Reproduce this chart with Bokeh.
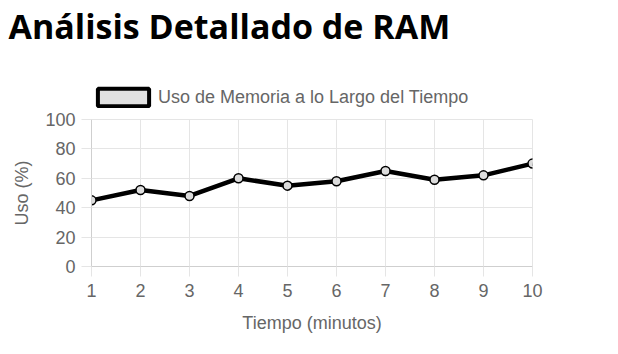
from bokeh.plotting import figure
from bokeh.models import ColumnDataSource, Legend, LegendItem, FixedTicker, Range1d, Title
from bokeh.layouts import column
from bokeh.embed import file_html
from bokeh.resources import INLINE

minutes = [1, 2, 3, 4, 5, 6, 7, 8, 9, 10]
usage = [45, 52, 48, 60, 55, 58, 65, 59, 62, 70]
y_ticks = [0, 20, 40, 60, 80, 100]
title_text = "Análisis Detallado de RAM"
series_name = "Uso de Memoria a lo Largo del Tiempo"
x_label = "Tiempo (minutos)"
y_label = "Uso (%)"

GRID = "#e5e5e5"
TXT = "#666666"
FONT = "Liberation Sans"
FS = "18px"

src = ColumnDataSource(dict(x=minutes, y=usage))

# ---- header: title + legend (its frame is aligned with the chart's frame) ----
hdr = figure(width=618, height=108, output_backend="svg", toolbar_location=None,
             x_range=Range1d(0, 1), y_range=Range1d(-1, 0), title=None,
             x_axis_type=None, y_axis_type=None,
             min_border_left=91, min_border_right=86, min_border_top=0, min_border_bottom=0)
hdr.outline_line_color = None
hdr.background_fill_color = "white"
hdr.border_fill_color = "white"

hdr.add_layout(Title(text=title_text, text_font="Open Sans", text_font_size="34px",
                     text_font_style="bold", text_color="black", align="left",
                     offset=-83, standoff=0), "above")

# legend swatch proxy (its data lie outside the header's view)
proxy = hdr.rect("x", "y", source=src, width=0.1, height=1,
                 fill_color="#e0e0e0", line_color="black", line_width=4)

legend = Legend(items=[LegendItem(label=series_name, renderers=[proxy])],
                location=(0, 0), orientation="horizontal",
                glyph_width=64, glyph_height=22, label_height=18,
                label_text_font=FONT, label_text_font_size=FS, label_text_color=TXT,
                border_line_color=None, background_fill_alpha=0,
                padding=0, margin=0, label_standoff=3, spacing=0)
hdr.add_layout(legend, "center")

# ---- main chart ----
p = figure(width=618, height=246, output_backend="svg", toolbar_location=None,
           x_range=Range1d(1, 10), y_range=Range1d(0, 100), title=None,
           min_border_left=91, min_border_right=86, min_border_top=11, min_border_bottom=88)
p.outline_line_color = GRID
p.background_fill_color = "white"

p.line("x", "y", source=src, line_color="black", line_width=4.5)
p.scatter("x", "y", source=src, size=9, fill_color="#dcdcdc", line_color="black", line_width=1.5)

for ax in (p.xaxis[0], p.yaxis[0]):
    ax.axis_line_color = "#cfcfcf"
    ax.major_tick_line_color = GRID
    ax.major_tick_out = 10
    ax.major_tick_in = 0
    ax.minor_tick_line_color = None
    ax.major_label_text_font = FONT
    ax.major_label_text_font_size = FS
    ax.major_label_text_color = TXT
    ax.axis_label_text_font = FONT
    ax.axis_label_text_font_size = FS
    ax.axis_label_text_color = TXT
    ax.axis_label_text_font_style = "normal"

p.xaxis.ticker = FixedTicker(ticks=minutes)
p.yaxis.ticker = FixedTicker(ticks=y_ticks)
p.xaxis.major_label_standoff = 7
p.yaxis.major_label_standoff = 6
p.xaxis.axis_label = x_label
p.yaxis.axis_label = y_label
p.xaxis.axis_label_standoff = 13
p.yaxis.axis_label_standoff = 10

p.xgrid.grid_line_color = GRID
p.ygrid.grid_line_color = GRID
p.xgrid.ticker = FixedTicker(ticks=minutes)
p.ygrid.ticker = FixedTicker(ticks=y_ticks)

layout = column(hdr, p, spacing=0)
open("out.html", "w").write(file_html(layout, INLINE))
